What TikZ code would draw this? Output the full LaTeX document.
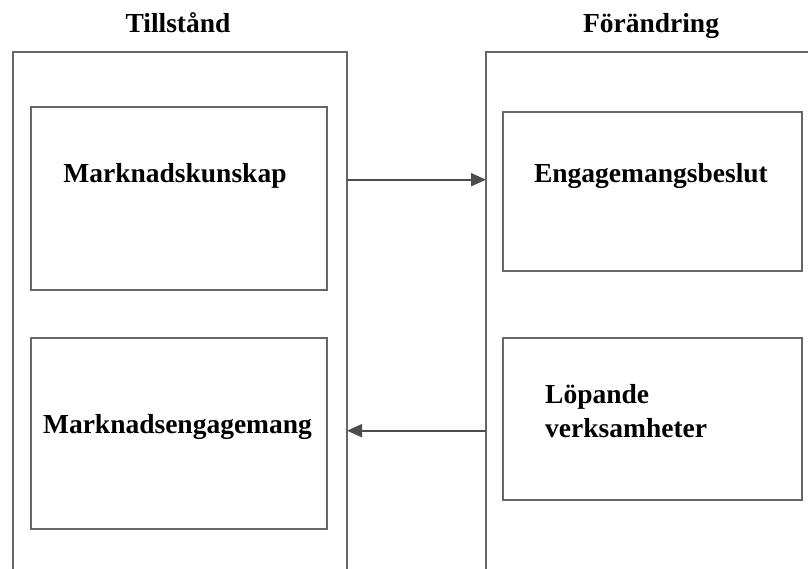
\documentclass[tikz,border=0pt]{standalone}
\usepackage{fontspec}
\setmainfont{Liberation Serif}
\usetikzlibrary{positioning, arrows.meta}

\begin{document}
\begin{tikzpicture}[x=1pt, y=1pt, on grid, node distance=235pt,
    every node/.style={font=\fontsize{27.5}{34}\selectfont\bfseries},
    frame/.style={draw=black!60, line width=1.5pt, inner sep=0pt, outer sep=0pt},
    boxtext/.style={inner sep=0pt},
    arrow/.style={-{Triangle[length=15pt, width=13pt]}, draw=black!70, line width=2pt}]
  \useasboundingbox (0,0) rectangle (808,-568);
  \clip (0,0) rectangle (808,-568);

  % titles
  \node[boxtext, anchor=base] (tillstand) at (178,-32) {Tillstånd};
  \node[boxtext, anchor=base] (forandring) at (651,-32) {Förändring};

  % the two open frames
  \node[frame, minimum width=334pt, minimum height=568pt] (frameL) at (180,-336) {};
  \node[frame, minimum width=414pt, minimum height=568pt] (frameR) at (693,-336) {};

  % boxes
  \node[frame, minimum width=296pt, minimum height=183pt] (kunskapbox) at (179,-198.5) {};
  \node[frame, minimum width=296pt, minimum height=191pt] (engagemangbox) [below=of kunskapbox] {};
  \node[frame, minimum width=299pt, minimum height=159pt] (beslutbox) at (652.5,-191.5) {};
  \node[frame, minimum width=299pt, minimum height=162pt] (lopandebox) [below=227.5pt of beslutbox] {};

  \node[boxtext, anchor=base] (kunskap) at (175,-182) {Marknadskunskap};
  \node[boxtext, anchor=base] (engagemang) at (177.5,-433) {Marknadsengagemang};
  \node[boxtext, anchor=base] (beslut) at (651,-182) {Engagemangsbeslut};
  \node[boxtext, anchor=west, align=left] (lopande) at (545,-411.5) {Löpande\\verksamheter};

  \draw[arrow] (frameL.east |- kunskap.mid) -- (frameR.west |- kunskap.mid);
  \draw[arrow] (frameR.west |- engagemang.mid) -- (frameL.east |- engagemang.mid);
\end{tikzpicture}
\end{document}
